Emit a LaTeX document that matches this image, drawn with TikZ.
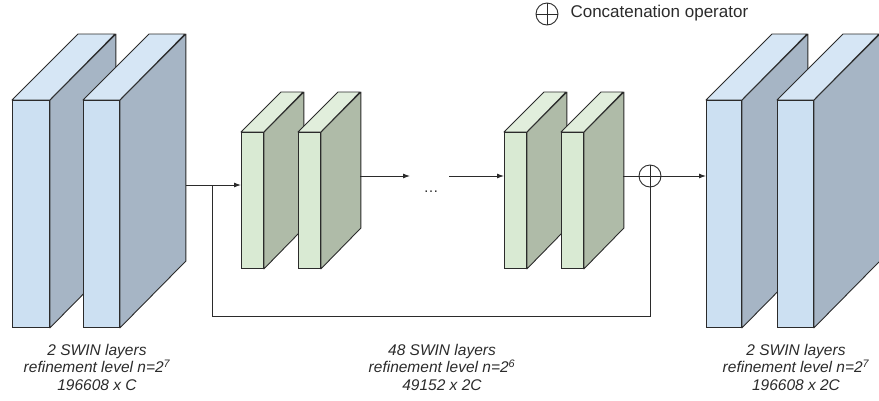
\documentclass[tikz,border=0pt]{standalone}
\usepackage{fontspec}
\setmainfont{Liberation Sans}
\usetikzlibrary{arrows.meta,calc}
\definecolor{bfront}{HTML}{CCE0F2}
\definecolor{btop}{HTML}{D6E6F5}
\definecolor{bside}{HTML}{A6B5C5}
\definecolor{gfront}{HTML}{D9EAD3}
\definecolor{gtop}{HTML}{E1EEDC}
\definecolor{gside}{HTML}{AFBBA8}
\definecolor{edge}{HTML}{2B2B2B}
\tikzset{
  face/.style={draw=edge, line width=0.9pt, line join=round},
  frontface/.style={face, rectangle, inner sep=0pt, anchor=north west},
  conn/.style={draw=edge, line width=0.9pt},
  arr/.style={conn, -{Latex[length=7pt,width=5pt]}},
  lbl/.style={font=\fontsize{15.5}{17.5}\selectfont\itshape, align=center, text=edge},
  opc/.style={circle, draw=edge, line width=0.9pt, minimum size=22pt, inner sep=0pt,
    path picture={\draw[edge, line width=0.9pt] (path picture bounding box.north) -- (path picture bounding box.south)
      (path picture bounding box.west) -- (path picture bounding box.east);}}
}
% slab: name, x, y (top-left of front), width, height, depth, front, top, side
\newcommand{\slab}[9]{%
  \node[frontface, minimum width=#4, minimum height=#5] (#1) at (#2,#3) {};
  \filldraw[face, fill=#9] (#1.north east) -- ++(#6,-#6) -- ++(0,#5) -- ($(#1.south east)$) -- cycle;
  \filldraw[face, fill=#8] (#1.north west) -- ++(#6,-#6) -- ++(#4,0) -- (#1.north east) -- cycle;
  \node[frontface, fill=#7, minimum width=#4, minimum height=#5] at (#2,#3) {};
}
\begin{document}
\begin{tikzpicture}[x=1pt,y=-1pt]
\useasboundingbox (0,0) rectangle (879,400);
% blue slabs left
\slab{b1}{12}{100}{37}{227}{66}{bfront}{btop}{bside}
\slab{b2}{83}{100}{36}{227}{66}{bfront}{btop}{bside}
% green slabs
\slab{g1}{241}{132}{22}{136}{40}{gfront}{gtop}{gside}
\slab{g2}{298}{132}{22}{136}{40}{gfront}{gtop}{gside}
\slab{g3}{504}{132}{22}{136}{40}{gfront}{gtop}{gside}
\slab{g4}{561}{132}{22}{136}{40}{gfront}{gtop}{gside}
% blue slabs right
\slab{b5}{706}{100}{35}{227}{66}{bfront}{btop}{bside}
\slab{b6}{777}{100}{36}{227}{66}{bfront}{btop}{bside}
% concatenation operator
\node[opc] (cat) at (650,176) {};
% connectors
\coordinate (b2out) at (186,185);
\coordinate (split) at (212,185);
\coordinate (g2out) at (360,176);
\coordinate (dotsin) at (410,176);
\coordinate (dotsout) at (449,176);
\coordinate (g4out) at (623,176);
\draw[arr] (b2out) -- (g1.west |- b2out);
\draw[conn] (split) -- (212,316) -- (cat.south |- 0,316) -- (cat.south);
\draw[arr] (g2out) -- (dotsin);
\node[font=\fontsize{15}{16}\selectfont, text=edge] (dots) at (431,192) {\ldots};
\draw[arr] (dotsout) -- (g3.west |- dotsout);
\draw[conn] (g4out) -- (cat.west);
\draw[arr] (cat.east) -- (b5.west |- cat.east);
% legend
\node[opc] (legc) at (547,14) {};
\node[anchor=west, font=\fontsize{17}{19}\selectfont, text=edge] (legt) at (567,13) {Concatenation operator};
% labels
\node[lbl] (l1) at (97,367) {2 SWIN layers\\refinement level n=2\textsuperscript{7}\\196608 x C};
\node[lbl] (l2) at (442,367) {48 SWIN layers\\refinement level n=2\textsuperscript{6}\\49152 x 2C};
\node[lbl] (l3) at (796,367) {2 SWIN layers\\refinement level n=2\textsuperscript{7}\\196608 x 2C};
\end{tikzpicture}
\end{document}
